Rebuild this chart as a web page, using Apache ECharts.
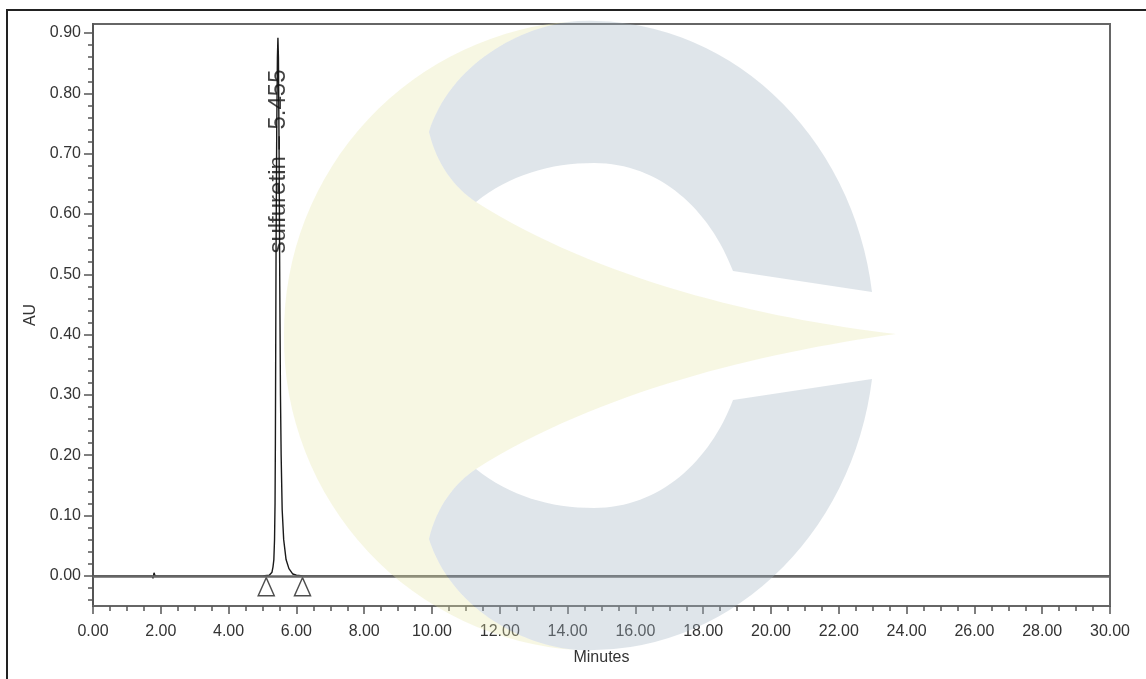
<!DOCTYPE html>
<html>
<head>
<meta charset="utf-8">
<script src="https://cdn.jsdelivr.net/npm/echarts@6/dist/echarts.min.js"></script>
<style>
html,body{margin:0;padding:0;background:#fff;}
#chart{width:1146px;height:679px;}
</style>
</head>
<body>
<div id="chart"></div>
<script>
// ---- data ----
const traceMinutes = [0, 1.74, 1.77, 1.80, 1.83, 1.90, 5.00, 5.20, 5.25, 5.28, 5.31, 5.335, 5.355, 5.37, 5.38, 5.39, 5.40, 5.42, 5.44, 5.455, 5.47, 5.49, 5.51, 5.53, 5.55, 5.58, 5.625, 5.695, 5.78, 5.895, 6.00, 6.20, 30];
const traceAU      = [0, 0, -0.004, 0.005, 0.000, 0, 0, 0.001, 0.002, 0.006, 0.015, 0.027, 0.060, 0.120, 0.220, 0.380, 0.540, 0.740, 0.860, 0.892, 0.860, 0.700, 0.480, 0.300, 0.200, 0.110, 0.060, 0.027, 0.012, 0.003, 0.001, 0, 0];

const markerMinutes = [5.11, 6.18];
const markerAU      = [-0.018, -0.018];

const peakName = 'sulfuretin';
const peakRT = 5.455;
const peakLabelAU = 0.687;

const xTickLabels = [0, 2, 4, 6, 8, 10, 12, 14, 16, 18, 20, 22, 24, 26, 28, 30];
const yTickLabels = [0.00, 0.10, 0.20, 0.30, 0.40, 0.50, 0.60, 0.70, 0.80, 0.90];
const yMinorTicks = [-0.04, -0.02, 0.02, 0.04, 0.06, 0.08, 0.12, 0.14, 0.16, 0.18, 0.22, 0.24, 0.26, 0.28,
  0.32, 0.34, 0.36, 0.38, 0.42, 0.44, 0.46, 0.48, 0.52, 0.54, 0.56, 0.58, 0.62, 0.64, 0.66, 0.68,
  0.72, 0.74, 0.76, 0.78, 0.82, 0.84, 0.86, 0.88];

const trace = traceMinutes.map((m, i) => [m, traceAU[i]]);
const markers = markerMinutes.map((m, i) => [m, markerAU[i]]);

const FONT = 'Liberation Sans, Arial, sans-serif';
const yMin = -0.05, yMax = 0.915;

// faint logo watermark (decoration, pixel paths)
const wmYellow = 'M 896 334 C 760 318 600 280 476 202 C 455 188 437 165 429 132 C 450 65 520 25 578 21 ' +
                 'A 312 312 0 0 0 284 335 A 312 312 0 0 0 578 650 ' +
                 'C 520 646 450 606 429 539 C 437 506 455 483 476 469 C 600 391 760 353 896 334 Z';
const wmBlue = 'M 872 292 A 285 313 0 0 0 578 21 C 520 25 450 65 429 132 C 437 165 455 188 476 202 C 510 175 550 163 594 163 C 660 163 710 210 733 271 Z ' +
               'M 872 379 A 285 313 0 0 1 578 650 C 520 646 450 606 429 539 C 437 506 455 483 476 469 C 510 496 550 508 594 508 C 660 508 710 461 733 400 Z';

const chart = echarts.init(document.getElementById('chart'), null, {renderer: 'canvas'});
chart.setOption({
  animation: false,
  backgroundColor: '#fff',
  grid: {left: 93, right: 36, top: 24, bottom: 73, show: true, borderColor: '#666', borderWidth: 2, backgroundColor: 'transparent'},
  xAxis: {
    type: 'value', min: 0, max: 30, interval: 2,
    name: 'Minutes', nameLocation: 'middle', nameGap: 44,
    nameTextStyle: {fontFamily: FONT, fontSize: 16, color: '#333'},
    axisLine: {show: true, onZero: false, lineStyle: {color: '#666', width: 2}},
    axisTick: {show: true, length: 8, lineStyle: {color: '#555', width: 1.5}},
    minorTick: {show: true, splitNumber: 4, length: 5, lineStyle: {color: '#555', width: 1.5}},
    splitLine: {show: false},
    axisLabel: {fontFamily: FONT, fontSize: 16, color: '#333', margin: 18,
      formatter: v => xTickLabels.indexOf(v) >= 0 ? v.toFixed(2) : ''}
  },
  yAxis: [{
    type: 'value', min: yMin, max: yMax,
    name: 'AU', nameLocation: 'middle', nameGap: 54, nameRotate: 90,
    nameTextStyle: {fontFamily: FONT, fontSize: 16, color: '#333'},
    axisLine: {show: true, lineStyle: {color: '#555', width: 2}},
    axisTick: {show: true, length: 9, customValues: yTickLabels, lineStyle: {color: '#555', width: 1.5}},
    splitLine: {show: false},
    axisLabel: {fontFamily: FONT, fontSize: 16, color: '#333', margin: 12, customValues: yTickLabels,
      formatter: v => v.toFixed(2)}
  }, {
    type: 'value', min: yMin, max: yMax, position: 'left',
    axisLine: {show: false},
    axisTick: {show: true, length: 5, customValues: yMinorTicks, lineStyle: {color: '#555', width: 1.5}},
    axisLabel: {show: false},
    splitLine: {show: false}
  }],
  series: [{
    type: 'line', data: trace, showSymbol: false, symbol: 'none',
    lineStyle: {color: '#1a1a1a', width: 1.4},
    markLine: {silent: true, symbol: 'none', label: {show: false},
      lineStyle: {color: '#666', width: 2.5, type: 'solid'},
      data: [{yAxis: 0}]},
    z: 3
  }, {
    type: 'scatter', data: markers, symbol: 'triangle', symbolSize: [16, 18],
    itemStyle: {color: 'rgba(0,0,0,0)', borderColor: '#222', borderWidth: 1.5},
    z: 4
  }, {
    type: 'scatter', data: [{value: [peakRT, peakLabelAU], name: peakName}],
    symbolSize: 1, itemStyle: {color: 'rgba(0,0,0,0)'},
    label: {show: true, position: 'inside', rotate: 90, fontFamily: FONT, fontSize: 24, color: '#111',
      formatter: p => p.name + ' \u2013 ' + peakRT.toFixed(3)},
    z: 20
  }, {
    type: 'custom', coordinateSystem: 'none', silent: true, z: 10, data: [0],
    renderItem: function () {
      return {type: 'group', children: [
        {type: 'path', shape: {pathData: wmYellow}, style: {fill: 'rgba(232,232,169,0.33)'}},
        {type: 'path', shape: {pathData: wmBlue}, style: {fill: 'rgba(164,181,195,0.35)'}}
      ]};
    }
  }],
  graphic: [
    {type: 'rect', silent: true, z: 0, shape: {x: 7, y: 10, width: 1160, height: 700},
      style: {fill: 'none', stroke: '#222', lineWidth: 2}}
  ]
});
</script>
</body>
</html>
